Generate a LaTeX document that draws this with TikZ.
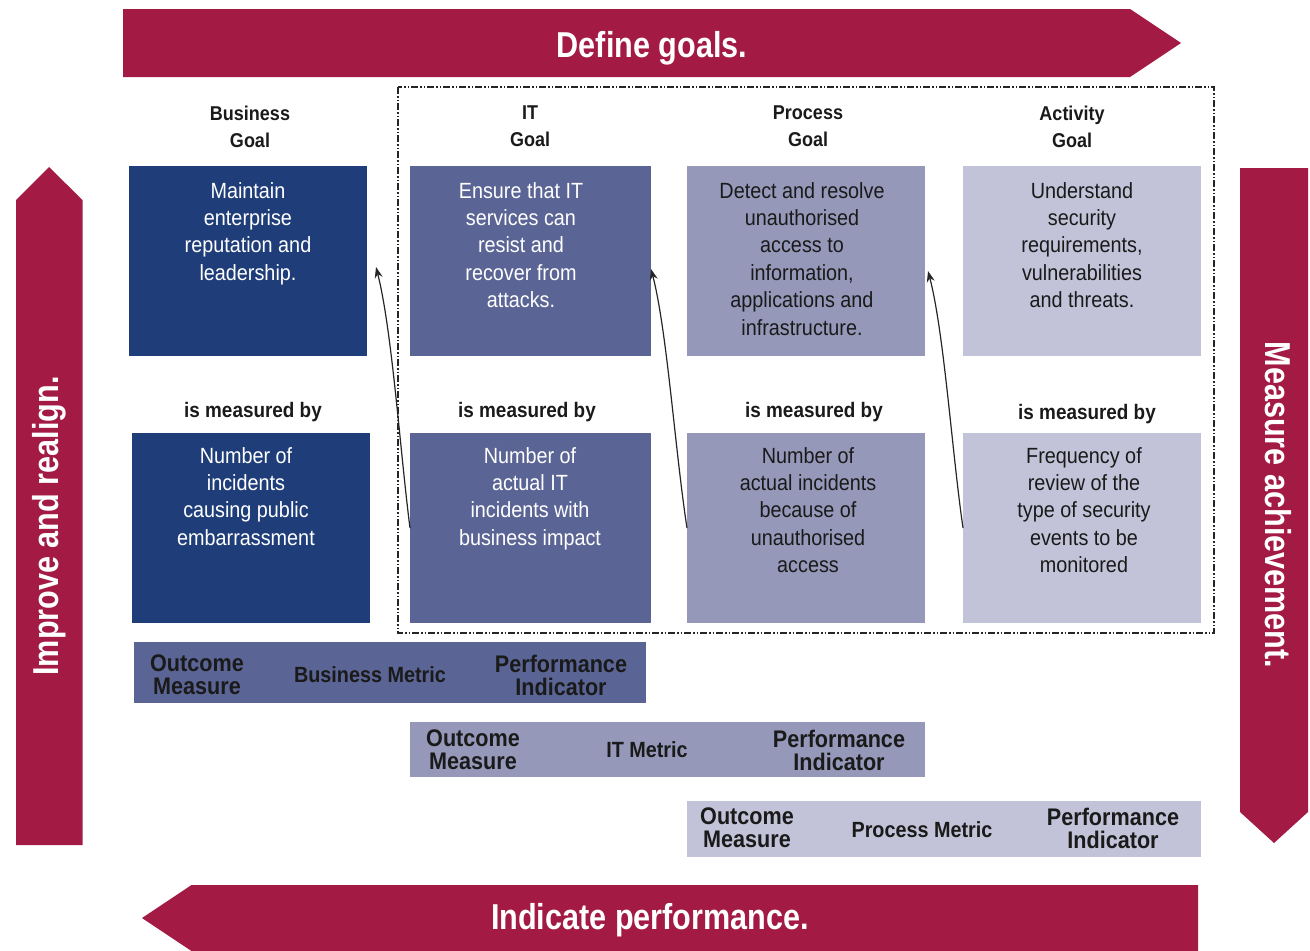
\documentclass[tikz,border=0pt]{standalone}
\usepackage{fontspec}
\setmainfont{Liberation Sans}
\newfontfamily\cf[FakeStretch=0.9]{Liberation Sans}
\newfontfamily\af[FakeStretch=0.85]{Liberation Sans}
\usetikzlibrary{arrows.meta}
\definecolor{cred}{HTML}{A31A45}
\definecolor{cbus}{HTML}{1F3E79}
\definecolor{cit}{HTML}{5B6595}
\definecolor{cproc}{HTML}{9598B9}
\definecolor{cact}{HTML}{C2C3D8}
\definecolor{ctxt}{HTML}{1A1A1A}
\tikzset{
  bigarrow/.style={fill=cred, draw=none},
  arrtext/.style={text=white, font=\af\bfseries\fontsize{36}{40}\selectfont, inner sep=0pt},
  gbox/.style={draw=none, inner sep=0pt, outer sep=0pt, minimum width=238, minimum height=190},
  boxtext/.style={anchor=north, inner sep=0pt, align=center, font=\cf\fontsize{22}{27.4}\selectfont},
  hdr/.style={anchor=north, inner sep=0pt, align=center, text=ctxt, font=\cf\bfseries\fontsize{20}{27}\selectfont},
  meas/.style={anchor=base, inner sep=0pt, text=ctxt, font=\cf\bfseries\fontsize{21}{24}\selectfont},
  band/.style={draw=none, inner sep=0pt, outer sep=0pt},
  bandtwo/.style={anchor=north, inner sep=0pt, align=center, text=ctxt, font=\cf\bfseries\fontsize{24}{23}\selectfont},
  bandone/.style={anchor=base, inner sep=0pt, text=ctxt, font=\cf\bfseries\fontsize{22}{24}\selectfont},
  frame/.style={draw=black!85, line width=1.1pt, dash pattern=on 7pt off 2pt on 1.5pt off 2pt on 1.5pt off 2pt},
  conn/.style={draw=black!85, line width=1.2pt, -{Stealth[length=11pt,width=8pt]}}
}
\begin{document}
\begin{tikzpicture}[x=1pt,y=-1pt]
\useasboundingbox (0,0) rectangle (1310,951);

% big arrows
\fill[bigarrow] (123,9) -- (1130,9) -- (1181,43) -- (1130,77) -- (123,77) -- cycle;
\node[arrtext, anchor=base] (tdef) at (652,57) {Define goals.};

\fill[bigarrow] (16,845) -- (16,200) -- (49,167) -- (82.5,200) -- (82.5,845) -- cycle;
\node[arrtext, anchor=base, rotate=90] (timp) at (58,526) {Improve and realign.};

\fill[bigarrow] (1240,168) -- (1308,168) -- (1308,812) -- (1274,843) -- (1240,812) -- cycle;
\node[arrtext, anchor=base, rotate=-90] (tmea) at (1265,505) {Measure achievement.};

\fill[bigarrow] (1198,885) -- (191.5,885) -- (142,918) -- (191.5,951) -- (1198,951) -- cycle;
\node[arrtext, anchor=base] (tind) at (650,929) {Indicate performance.};

% dashed frame
\draw[frame] (398,87) rectangle (1214,633);

% headers
\node[hdr] (hb) at (250,106) {Business\\Goal};
\node[hdr] (hi) at (530,106) {IT\\Goal};
\node[hdr] (hp) at (808,106) {Process\\Goal};
\node[hdr] (ha) at (1072,106) {Activity\\Goal};

% goal boxes
\node[gbox, fill=cbus] (bg) at (248,261) {};
\node[gbox, fill=cit, minimum width=241] (ig) at (530.5,261) {};
\node[gbox, fill=cproc] (pg) at (806,261) {};
\node[gbox, fill=cact] (ag) at (1082,261) {};

\node[boxtext, text=white] (bgt) at (248,182) {Maintain\\enterprise\\reputation and\\leadership.};
\node[boxtext, text=white] (igt) at (521,182) {Ensure that IT\\services can\\resist and\\recover from\\attacks.};
\node[boxtext, text=ctxt] (pgt) at (802,182) {Detect and resolve\\unauthorised\\access to\\information,\\applications and\\infrastructure.};
\node[boxtext, text=ctxt] (agt) at (1082,182) {Understand\\security\\requirements,\\vulnerabilities\\and threats.};

% is measured by
\node[meas] (mb) at (253,417) {is measured by};
\node[meas] (mi) at (527,417) {is measured by};
\node[meas] (mp) at (814,417) {is measured by};
\node[meas] (ma) at (1087,419) {is measured by};

% measure boxes
\node[gbox, fill=cbus, minimum width=237.5] (bm) at (250.75,528) {};
\node[gbox, fill=cit, minimum width=241] (im) at (530.5,528) {};
\node[gbox, fill=cproc] (pm) at (806,528) {};
\node[gbox, fill=cact] (am) at (1082,528) {};

\node[boxtext, text=white] (bmt) at (246,447) {Number of\\incidents\\causing public\\embarrassment};
\node[boxtext, text=white] (imt) at (530,447) {Number of\\actual IT\\incidents with\\business impact};
\node[boxtext, text=ctxt] (pmt) at (808,447) {Number of\\actual incidents\\because of\\unauthorised\\access};
\node[boxtext, text=ctxt] (amt) at (1084,447) {Frequency of\\review of the\\type of security\\events to be\\monitored};

% connectors
\coordinate (t1) at (376,267);
\coordinate (t2) at (651,269);
\coordinate (t3) at (928,271);
\draw[conn] (im.west) .. controls (400,450) and (392,330) .. (t1);
\draw[conn] (pm.west) .. controls (675,450) and (667,330) .. (t2);
\draw[conn] (am.west) .. controls (952,452) and (944,332) .. (t3);

% metric bands
\node[band, fill=cit, minimum width=512, minimum height=61] (bb) at (390,672.5) {};
\node[band, fill=cproc, minimum width=515, minimum height=55] (ib) at (667.5,749.5) {};
\node[band, fill=cact, minimum width=514, minimum height=56] (pb) at (944,829) {};

\node[bandtwo] (bb1) at (197,655) {Outcome\\Measure};
\node[bandone] (bb2) at (370,682) {Business Metric};
\node[bandtwo] (bb3) at (561,655) {Performance\\Indicator};

\node[bandtwo] (ib1) at (473,730) {Outcome\\Measure};
\node[bandone] (ib2) at (647,757) {IT Metric};
\node[bandtwo] (ib3) at (839,730) {Performance\\Indicator};

\node[bandtwo] (pb1) at (747,808) {Outcome\\Measure};
\node[bandone] (pb2) at (922,837) {Process Metric};
\node[bandtwo] (pb3) at (1113,808) {Performance\\Indicator};
\end{tikzpicture}
\end{document}
